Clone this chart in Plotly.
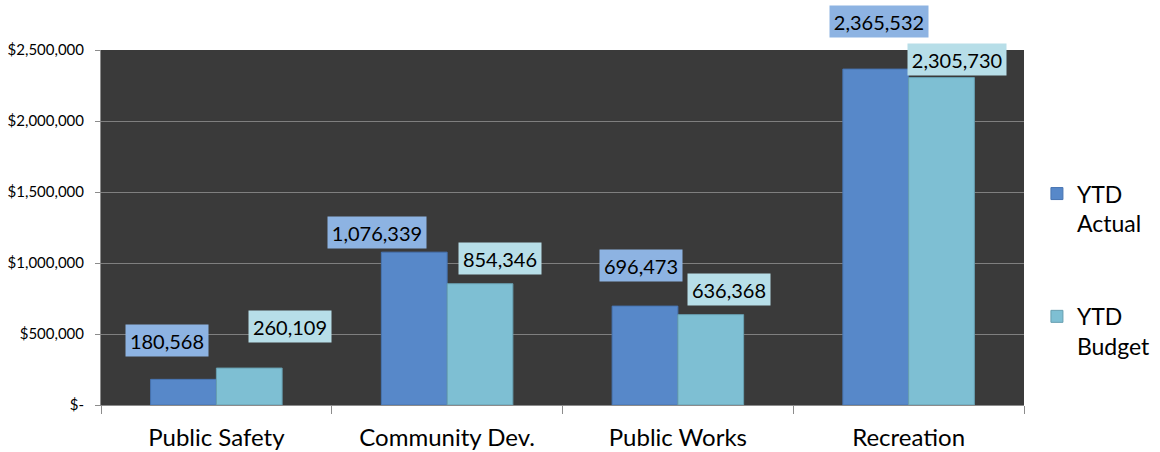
import plotly.graph_objects as go

categories = ["Public Safety", "Community Dev.", "Public Works", "Recreation"]
ytd_actual = [180568, 1076339, 696473, 2365532]
ytd_budget = [260109, 854346, 636368, 2305730]
ytick_vals = [0, 500000, 1000000, 1500000, 2000000, 2500000]
ytick_text = ["$-", "$500,000", "$1,000,000", "$1,500,000", "$2,000,000", "$2,500,000"]

# label offsets in px (placement only)
actual_shift = [(-49, 39), (-70, 20), (-37, 41), (-30, 48)]
budget_shift = [(74, 42), (53, 25), (51, 25), (48, 18)]

FONT = "Lato"

fig = go.Figure()
fig.add_trace(go.Bar(
    x=categories, y=ytd_actual, name="YTD<br>Actual", legendgroup="a",
    marker=dict(color="#5788C9", line=dict(color="#4774B2", width=1)),
))
fig.add_trace(go.Bar(
    x=categories, y=ytd_budget, name="YTD<br>Budget", legendgroup="b",
    marker=dict(color="#7EBFD3", line=dict(color="#679FB0", width=1)),
))

annotations = []
for cat, v, (dx, dy) in zip(categories, ytd_actual, actual_shift):
    t = f"{v:,}"
    annotations.append(dict(
        x=cat, y=v, xref="x", yref="y", text=t, showarrow=False,
        xshift=dx, yshift=dy, bgcolor="#8DB3E2", width=8 * len(t) + 24, height=29,
        font=dict(family=FONT, size=20, color="#000000"),
    ))
for cat, v, (dx, dy) in zip(categories, ytd_budget, budget_shift):
    t = f"{v:,}"
    annotations.append(dict(
        x=cat, y=v, xref="x", yref="y", text=t, showarrow=False,
        xshift=dx, yshift=dy, bgcolor="#B7DEE8", width=8 * len(t) + 24, height=29,
        font=dict(family=FONT, size=20, color="#000000"),
    ))

fig.update_layout(
    width=1160, height=452,
    margin=dict(l=101, r=136, t=50, b=47, autoexpand=False),
    paper_bgcolor="white", plot_bgcolor="#3A3A3A",
    barmode="group", bargap=0.43, bargroupgap=0,
    font=dict(family=FONT, color="#000000"),
    annotations=annotations,
    showlegend=True,
    legend=dict(
        x=1.014, xanchor="left", y=0.38, yanchor="middle",
        font=dict(family=FONT, size=23, color="#000000"),
        tracegroupgap=60, valign="top", bgcolor="rgba(0,0,0,0)",
    ),
    xaxis=dict(
        type="category", tickson="boundaries", ticks="outside", ticklen=8,
        tickcolor="#8C8C8C", showline=True, linecolor="#8C8C8C", linewidth=1,
        tickfont=dict(family=FONT, size=24, color="#000000"), ticklabelstandoff=11,
        showgrid=False, fixedrange=True,
    ),
    yaxis=dict(
        range=[0, 2500000], tickvals=ytick_vals, ticktext=ytick_text,
        ticks="outside", ticklen=5, tickcolor="#8C8C8C",
        showline=True, linecolor="#8C8C8C", linewidth=1,
        showgrid=True, gridcolor="#7F7F7F", gridwidth=1, zeroline=False,
        tickfont=dict(family=FONT, size=15, color="#000000"), ticklabelstandoff=8,
    ),
)

fig.write_html("out.html")
